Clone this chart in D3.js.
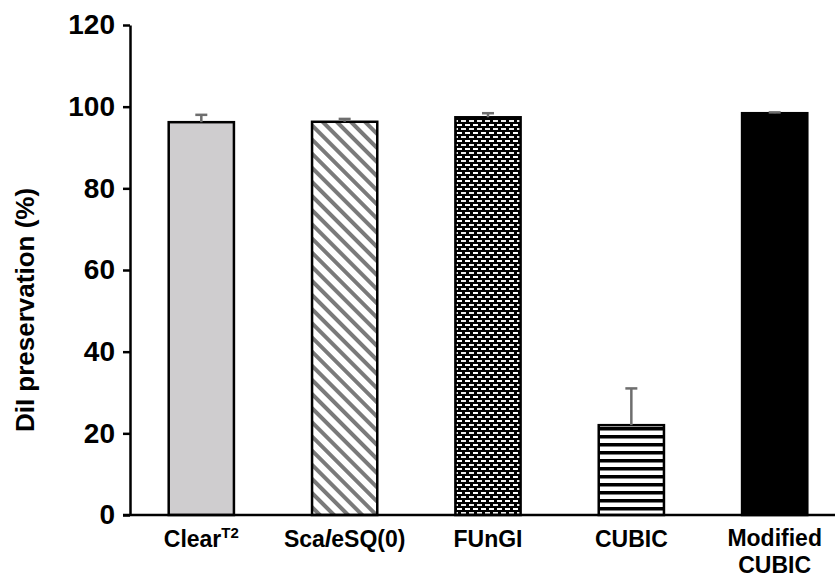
<!DOCTYPE html>
<html><head><meta charset="utf-8">
<script src="https://cdn.jsdelivr.net/npm/d3@7"></script>
<style>body{margin:0;background:#fff}svg{display:block}text{font-family:"Liberation Sans",Arial,sans-serif;font-weight:bold}</style>
</head><body>
<svg id="c" width="837" height="578"></svg>
<script>
const categories = ["Clear", "ScaleSQ(0)", "FUnGI", "CUBIC", "Modified CUBIC"];
const values = [96.2, 96.3, 97.4, 22.0, 98.4];
const errorTops = [98.0, 97.0, 98.4, 31.0, 98.6];
const yTicks = [0, 20, 40, 60, 80, 100, 120];
const yLabel = "DiI preservation (%)";

const svg = d3.select("#c");
const x = d3.scaleBand().domain(categories).range([130, 846]).paddingInner(0.545).paddingOuter(0.27);
const y = d3.scaleLinear().domain([0, 120]).range([515, 25]);

const defs = svg.append("defs");
// diagonal stripes
const pd = defs.append("pattern").attr("id","diag").attr("patternUnits","userSpaceOnUse")
  .attr("width",10).attr("height",10).attr("patternTransform","rotate(-45)");
pd.append("rect").attr("width",10).attr("height",10).attr("fill","#fff");
pd.append("rect").attr("x",0).attr("width",4).attr("height",10).attr("fill","#7a7a7a");
// checker dashes
const pc = defs.append("pattern").attr("id","check").attr("patternUnits","userSpaceOnUse")
  .attr("width",8).attr("height",8).attr("y",515);
pc.append("rect").attr("width",8).attr("height",8).attr("fill","#000");
pc.append("rect").attr("x",1).attr("y",1).attr("width",5).attr("height",2).attr("fill","#fff");
pc.append("rect").attr("x",5).attr("y",5).attr("width",3).attr("height",2).attr("fill","#eee");
pc.append("rect").attr("x",0).attr("y",5).attr("width",2).attr("height",2).attr("fill","#eee");
// horizontal stripes
const ph = defs.append("pattern").attr("id","hstripe").attr("patternUnits","userSpaceOnUse")
  .attr("width",8).attr("height",8).attr("y",515);
ph.append("rect").attr("width",8).attr("height",8).attr("fill","#fff");
ph.append("rect").attr("y",0).attr("width",8).attr("height",3.5).attr("fill","#000");

const fills = ["#cfcdcf", "url(#diag)", "url(#check)", "url(#hstripe)", "#000"];

svg.append("g").selectAll("rect").data(categories).join("rect")
  .attr("x", d => x(d)).attr("width", x.bandwidth())
  .attr("y", (d,i) => y(values[i])).attr("height", (d,i) => y(0) - y(values[i]))
  .attr("fill", (d,i) => fills[i]).attr("stroke","#000").attr("stroke-width",2.5);

// error bars
const eb = svg.append("g").attr("stroke","#6e6e6e").attr("stroke-width",2.5);
categories.forEach((d,i) => {
  const cx = x(d) + x.bandwidth()/2;
  eb.append("line").attr("x1",cx).attr("x2",cx).attr("y1",y(values[i])).attr("y2",y(errorTops[i]));
  eb.append("line").attr("x1",cx-6).attr("x2",cx+6).attr("y1",y(errorTops[i])).attr("y2",y(errorTops[i]));
});

// y axis
const ya = svg.append("g").attr("transform","translate(130,0)")
  .call(d3.axisLeft(y).tickValues(yTicks).tickSize(7).tickSizeOuter(0).tickPadding(8));
ya.selectAll("path,line").attr("stroke","#000").attr("stroke-width",2.5);
ya.selectAll("text").attr("fill","#000").style("font-size","28px").style("font-family","'Liberation Sans',Arial,sans-serif").style("font-weight","bold");

// x axis line
svg.append("line").attr("x1",123).attr("x2",835).attr("y1",515).attr("y2",515).attr("stroke","#000").attr("stroke-width",2.5);

// x labels
const lab = svg.append("g").attr("font-size","23px").attr("text-anchor","middle").attr("fill","#000");
const cxs = categories.map(d => x(d) + x.bandwidth()/2);
let t = lab.append("text").attr("x",cxs[0]).attr("y",547);
t.append("tspan").text("Clear");
t.append("tspan").attr("dy",-9).style("font-size","15px").text("T2");
t = lab.append("text").attr("x",cxs[1]).attr("y",547);
t.append("tspan").text("Sca");
t.append("tspan").style("font-style","italic").text("l");
t.append("tspan").text("eSQ(0)");
lab.append("text").attr("x",cxs[2]).attr("y",547).text("FUnGI");
lab.append("text").attr("x",cxs[3]).attr("y",547).text("CUBIC");
lab.append("text").attr("x",cxs[4]).attr("y",546).text("Modified");
lab.append("text").attr("x",cxs[4]).attr("y",573).text("CUBIC");

// y label
svg.append("text").attr("transform","translate(34,310) rotate(-90)").attr("text-anchor","middle")
  .attr("font-size","26px").attr("fill","#000").text(yLabel);
</script>
</body></html>
